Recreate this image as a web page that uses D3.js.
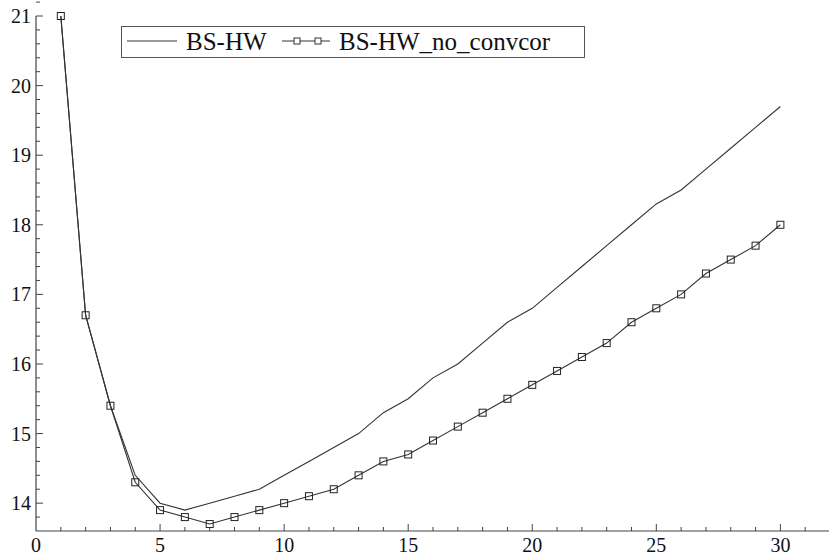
<!DOCTYPE html>
<html>
<head>
<meta charset="utf-8">
<script src="https://cdn.jsdelivr.net/npm/d3@7"></script>
<style>
  body { margin: 0; background: #fff; }
  text { font-family: "Liberation Serif", serif !important; }
</style>
</head>
<body>
<svg id="chart" width="829" height="556"></svg>
<script>
// maturities 1..30
var years = d3.range(1, 31);
var bsHw = [21.0, 16.7, 15.4, 14.4, 14.0, 13.9, 14.0, 14.1, 14.2, 14.4,
            14.6, 14.8, 15.0, 15.3, 15.5, 15.8, 16.0, 16.3, 16.6, 16.8,
            17.1, 17.4, 17.7, 18.0, 18.3, 18.5, 18.8, 19.1, 19.4, 19.7];
var bsHwNoConv = [21.0, 16.7, 15.4, 14.3, 13.9, 13.8, 13.7, 13.8, 13.9, 14.0,
                  14.1, 14.2, 14.4, 14.6, 14.7, 14.9, 15.1, 15.3, 15.5, 15.7,
                  15.9, 16.1, 16.3, 16.6, 16.8, 17.0, 17.3, 17.5, 17.7, 18.0];
var xTicks = [0, 5, 10, 15, 20, 25, 30];
var yTicks = [14, 15, 16, 17, 18, 19, 20, 21];
var seriesNames = ["BS-HW", "BS-HW_no_convcor"];

var font = 'Liberation Serif';
var svg = d3.select('#chart');

var x = d3.scaleLinear().domain([0, 32]).range([36, 830]);
var y = d3.scaleLinear().domain([13.6, 21]).range([531, 16]);

var lineColor = '#333';
var textColor = '#111';

function addText(sel, size){
	return sel.append('text')
	          .attr('fill', textColor)
	          .attr('font-family', font)
	          .attr('font-size', size)
	          .style('font-family', font)
	          .style('font-size', size + 'px');
}

// x axis, ticks pointing inward
var xAxis = svg.append('g').attr('transform', 'translate(0,531)');
xAxis.append('line')
     .attr('x1', x(0)).attr('x2', 829)
     .attr('stroke', '#444').attr('stroke-width', 1.2);
xAxis.selectAll('line.tick')
     .data(d3.range(1, 32))
     .enter().append('line')
     .attr('class', 'tick')
     .attr('x1', function(d){ return x(d); })
     .attr('x2', function(d){ return x(d); })
     .attr('y1', 0)
     .attr('y2', function(d){ return d % 5 == 0 ? -7 : -4; })
     .attr('stroke', '#444');
xTicks.forEach(function(d){
	addText(xAxis, 20)
	    .attr('x', x(d))
	    .attr('y', 21)
	    .attr('text-anchor', 'middle')
	    .text(d);
});

// y axis
var yMinor = d3.range(69, 211).map(function(d){ return d / 5; });
var yAxis = svg.append('g').attr('transform', 'translate(36,0)');
yAxis.append('line')
     .attr('y1', y(21)).attr('y2', 531)
     .attr('stroke', '#444').attr('stroke-width', 1.2);
yAxis.selectAll('line.tick')
     .data(yMinor)
     .enter().append('line')
     .attr('class', 'tick')
     .attr('y1', function(d){ return y(d); })
     .attr('y2', function(d){ return y(d); })
     .attr('x1', 0)
     .attr('x2', function(d){ return Math.abs(d - Math.round(d)) < 1e-6 ? 7 : 4; })
     .attr('stroke', '#444');
yTicks.forEach(function(d){
	addText(yAxis, 20)
	    .attr('x', -5)
	    .attr('y', y(d))
	    .attr('dy', '0.35em')
	    .attr('text-anchor', 'end')
	    .text(d);
});

// series
var line = d3.line()
             .x(function(d){ return x(d[0]); })
             .y(function(d){ return y(d[1]); });

svg.append('path')
   .datum(d3.zip(years, bsHw))
   .attr('d', line)
   .attr('fill', 'none')
   .attr('stroke', lineColor)
   .attr('stroke-width', 1.1);

var noConv = d3.zip(years, bsHwNoConv);
svg.append('path')
   .datum(noConv)
   .attr('d', line)
   .attr('fill', 'none')
   .attr('stroke', lineColor)
   .attr('stroke-width', 1.1);

var sq = 7;
svg.selectAll('rect.marker')
   .data(noConv)
   .enter().append('rect')
   .attr('class', 'marker')
   .attr('x', function(d){ return x(d[0]) - sq / 2; })
   .attr('y', function(d){ return y(d[1]) - sq / 2; })
   .attr('width', sq)
   .attr('height', sq)
   .attr('fill', 'none')
   .attr('stroke', '#222')
   .attr('stroke-width', 1);

// legend
var legend = svg.append('g');
legend.append('rect')
      .attr('x', 121.5).attr('y', 26.5)
      .attr('width', 463).attr('height', 31)
      .attr('fill', '#fff')
      .attr('stroke', '#555');
legend.append('line')
      .attr('x1', 127).attr('x2', 177)
      .attr('y1', 41).attr('y2', 41)
      .attr('stroke', lineColor);
addText(legend, 25)
      .attr('x', 186).attr('y', 50)
      .text(seriesNames[0]);
legend.append('line')
      .attr('x1', 282).attr('x2', 330)
      .attr('y1', 41).attr('y2', 41)
      .attr('stroke', lineColor);
legend.selectAll('rect.lm')
      .data([297, 318])
      .enter().append('rect')
      .attr('class', 'lm')
      .attr('x', function(d){ return d - 3; })
      .attr('y', 38)
      .attr('width', 6).attr('height', 6)
      .attr('fill', '#fff')
      .attr('stroke', '#333');
addText(legend, 25)
      .attr('x', 339).attr('y', 50)
      .text(seriesNames[1]);
</script>
</body>
</html>
